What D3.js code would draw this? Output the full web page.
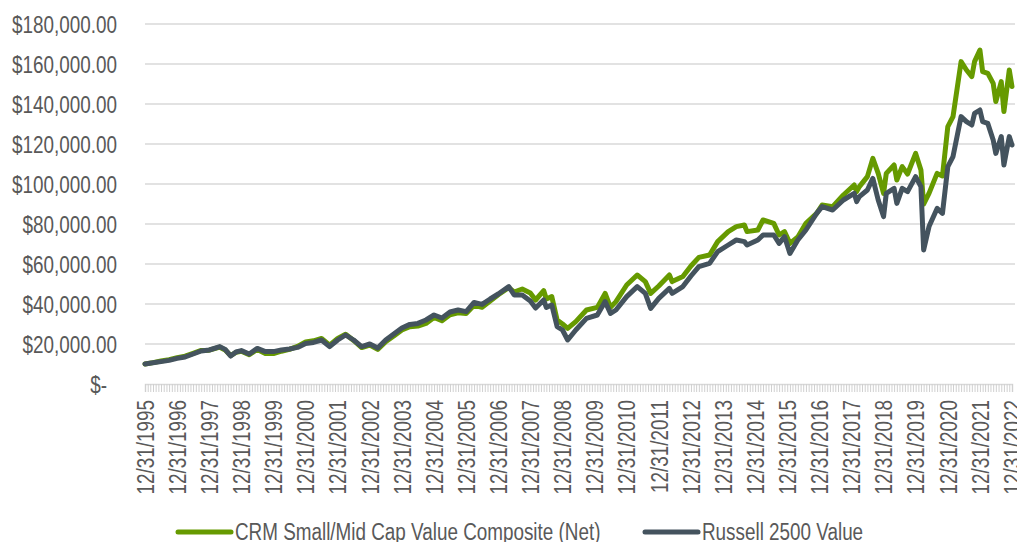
<!DOCTYPE html>
<html>
<head>
<meta charset="utf-8">
<script src="https://cdn.jsdelivr.net/npm/d3@7"></script>
<style>
  html, body { margin: 0; padding: 0; background: #fff; }
  svg text { font-family: "Liberation Sans", Arial, sans-serif; fill: #595959; }
</style>
</head>
<body>
<div id="chart"></div>
<script>
// month-end points
const dates = [
  "1995-12","1996-03","1996-06","1996-09","1996-12","1997-03","1997-06","1997-09","1997-12",
  "1998-04","1998-06","1998-08","1998-10","1998-12","1999-03","1999-06","1999-09","1999-12",
  "2000-03","2000-06","2000-09","2000-12","2001-03","2001-06","2001-09","2001-12",
  "2002-03","2002-06","2002-09","2002-12","2003-03","2003-06","2003-09","2003-12",
  "2004-03","2004-06","2004-09","2004-12","2005-03","2005-06","2005-09","2005-12",
  "2006-03","2006-06","2006-09","2006-12","2007-04","2007-06","2007-09","2007-12",
  "2008-02","2008-05","2008-06","2008-08","2008-10","2008-12","2009-02","2009-05","2009-09",
  "2010-01","2010-04","2010-06","2010-08","2010-12","2011-04","2011-07","2011-09","2011-12",
  "2012-04","2012-05","2012-09","2012-12","2013-03","2013-07","2013-10","2014-02","2014-05",
  "2014-08","2014-09","2015-01","2015-03","2015-07","2015-09","2015-11","2016-01","2016-04",
  "2016-07","2016-11","2017-01","2017-05","2017-09","2018-01","2018-02","2018-03","2018-06",
  "2018-08","2018-10","2018-12","2019-01","2019-04","2019-05","2019-07","2019-09","2019-12",
  "2020-02","2020-03","2020-05","2020-08","2020-10","2020-12","2021-02","2021-05","2021-07",
  "2021-09","2021-10","2021-12","2022-01","2022-03","2022-05","2022-06","2022-08","2022-09",
  "2022-11","2022-12"
];

const crm = [
  10000,10700,11500,12200,13200,13900,15300,16800,16900,
  18400,17000,14200,15800,16400,14600,17300,15300,15200,
  16400,17300,18800,21000,21600,22800,19400,22800,
  24900,21800,18200,19500,17300,21200,24000,27000,
  28600,29000,30300,33300,31600,34600,35600,35200,
  39400,38400,41500,44600,48200,46000,47500,45500,
  42000,46700,42500,43700,32000,30000,27800,31200,37000,
  38300,45300,38300,41200,49500,54500,51200,45300,49000,
  54500,51200,53700,59000,63300,64500,71200,76200,78700,
  79500,76200,77000,82000,80300,74500,76200,70300,73500,
  80300,85300,89500,88700,94500,99500,96200,98700,103700,
  112800,105300,95300,105300,109500,102000,108700,105000,115300,
  107000,90000,95300,105300,104000,128700,133700,161200,157000,
  153700,161200,167000,156200,155300,150300,141200,151200,136200,
  157000,148700
];

const r2500v = [
  10000,10600,11200,11800,12800,13500,15000,16500,17000,
  18700,17300,14000,16000,16700,15000,17800,16200,16200,
  17000,17500,18300,20300,20800,22000,18700,22000,
  24500,22000,18700,20000,18000,22000,25000,28000,
  29800,30300,32000,34500,33000,36000,37000,36200,
  40800,39800,42500,45000,48700,44500,44500,41500,
  38000,42000,38300,39500,28700,27000,22000,27000,32800,
  34500,41200,35300,37000,43700,48700,45300,37800,42800,
  47800,45300,48700,54000,58700,60300,66200,69500,72000,
  71200,69500,72000,74500,74500,70300,73700,65300,72000,
  77000,85300,88700,87000,92000,95300,91200,93700,97000,
  102800,92000,83700,95300,97800,90300,97800,96200,103700,
  98700,67000,78700,87800,85300,108700,113700,133700,131200,
  129500,135300,137000,131200,130300,122000,115300,123700,109500,
  123700,119500
];

const seriesNames = ["CRM Small/Mid Cap Value Composite (Net)", "Russell 2500 Value"];
const seriesColors = ["#669a00", "#44535e"];
const yTicks = [0, 20000, 40000, 60000, 80000, 100000, 120000, 140000, 160000, 180000];

const W = 1017, H = 542;
const margin = { left: 145, right: 1012, top: 24, bottom: 384 };
const squeeze = 0.82; // the original font is a condensed face

const parseMonth = d3.timeParse("%Y-%m");
const monthEnd = s => d3.timeDay.offset(d3.timeMonth.offset(parseMonth(s), 1), -1);

const svg = d3.select("#chart").append("svg")
    .attr("width", W)
    .attr("height", H);

const x = d3.scaleTime()
    .domain([new Date(1995, 11, 31), new Date(2022, 11, 31)])
    .range([margin.left, margin.right]);

const y = d3.scaleLinear()
    .domain([0, 180000])
    .range([margin.bottom, margin.top]);

// narrow the text to look like the condensed face
const condense = sel => sel.each(function () {
    const len = this.getComputedTextLength();
    d3.select(this)
        .attr("textLength", len * squeeze)
        .attr("lengthAdjust", "spacingAndGlyphs");
});

// gridlines
svg.append("g")
    .selectAll("line")
    .data(yTicks.filter(d => d > 0))
    .enter()
    .append("line")
    .attr("x1", margin.left)
    .attr("x2", 1015)
    .attr("y1", d => y(d))
    .attr("y2", d => y(d))
    .attr("stroke", "#d9d9d9")
    .attr("stroke-width", 1.5);

// y axis labels
const fmt = d3.format(",.2f");
const yAxis = svg.append("g")
    .attr("transform", `translate(117,0)`)
    .call(d3.axisLeft(y).tickValues(yTicks).tickSize(0)
        .tickFormat(d => d === 0 ? "$-" : "$" + fmt(d)));
yAxis.select(".domain").remove();
yAxis.selectAll("text")
    .attr("font-size", 23)
    .attr("x", d => d === 0 ? -10 : 0)
    .attr("dy", "0.36em")
    .call(condense);

// monthly tick band
const months = d3.range(0, 325).map(i => d3.timeDay.offset(d3.timeMonth.offset(new Date(1996, 0, 1), i), -1));
const xMinor = svg.append("g")
    .attr("transform", `translate(0,${margin.bottom})`)
    .call(d3.axisBottom(x).tickValues(months).tickSize(8).tickFormat(""));
xMinor.selectAll("line").attr("stroke", "#d0d0d0").attr("stroke-width", 1);
xMinor.select(".domain").attr("stroke", "#d9d9d9").attr("stroke-width", 1.5);

// yearly labels
const years = d3.range(1995, 2023).map(yr => new Date(yr, 11, 31));
const xAxis = svg.append("g")
    .attr("transform", `translate(0,${margin.bottom})`)
    .call(d3.axisBottom(x).tickValues(years).tickSize(0).tickFormat(d3.timeFormat("%m/%d/%Y")));
xAxis.select(".domain").remove();
xAxis.selectAll("text")
    .attr("font-size", 23)
    .attr("transform", "rotate(-90)")
    .attr("text-anchor", "end")
    .attr("x", -16)
    .attr("y", 0)
    .attr("dy", "0.36em")
    .call(condense);

// lines
const points = [crm, r2500v].map(vals => dates.map((d, i) => ({ date: monthEnd(d), value: vals[i] })));
const line = d3.line()
    .x(d => x(d.date))
    .y(d => y(d.value));

svg.append("g")
    .selectAll("path")
    .data(points)
    .enter()
    .append("path")
    .attr("d", line)
    .attr("fill", "none")
    .attr("stroke", (d, i) => seriesColors[i])
    .attr("stroke-width", 5)
    .attr("stroke-linejoin", "round")
    .attr("stroke-linecap", "round");

// legend
const legendX = [178, 645];
const legend = svg.append("g")
    .selectAll("g")
    .data(seriesNames)
    .enter()
    .append("g")
    .attr("transform", (d, i) => `translate(${legendX[i]},532)`);
legend.append("line")
    .attr("x1", 0).attr("x2", 53)
    .attr("stroke", (d, i) => seriesColors[i])
    .attr("stroke-width", 5)
    .attr("stroke-linecap", "round");
legend.append("text")
    .attr("x", 57)
    .attr("dy", "0.36em")
    .attr("font-size", 23)
    .text(d => d)
    .call(condense);
</script>
</body>
</html>
